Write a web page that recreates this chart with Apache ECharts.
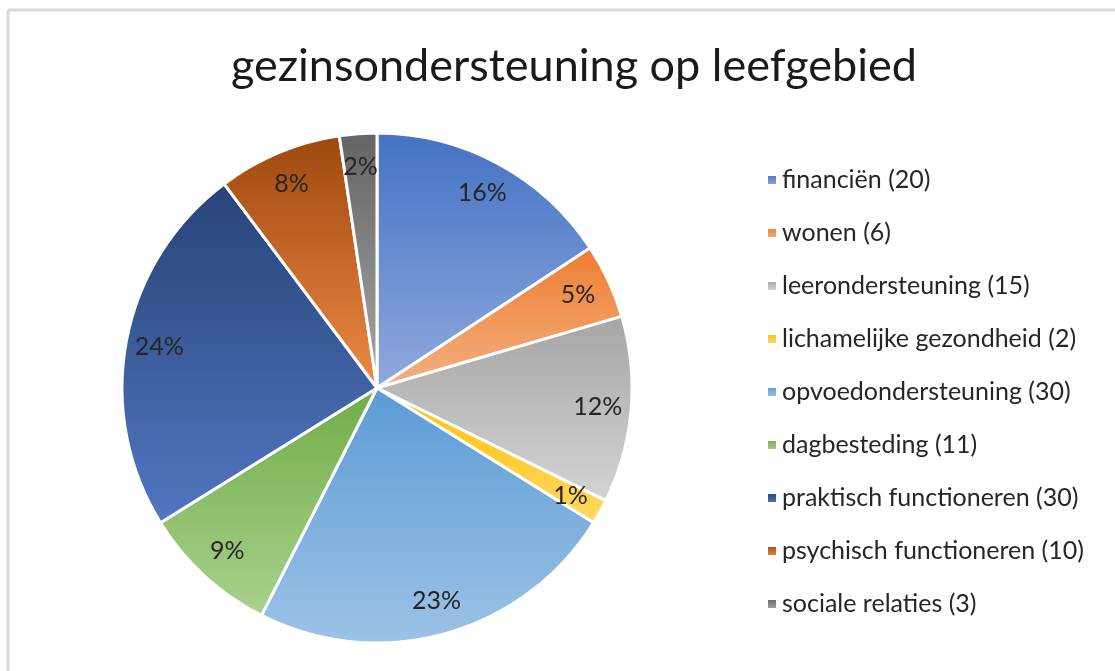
<!DOCTYPE html>
<html>
<head>
<meta charset="utf-8">
<script src="https://cdn.jsdelivr.net/npm/echarts@6/dist/echarts.min.js"></script>
<style>
  html, body { margin: 0; padding: 0; background: #fff; }
  #pie { width: 1115px; height: 671px; }
</style>
</head>
<body>
<div id="pie"></div>
<script>
var myChart = echarts.init(document.getElementById('pie'));

// gegevens
var titel = 'gezinsondersteuning op leefgebied';
var leefgebieden = ['financiën', 'wonen', 'leerondersteuning', 'lichamelijke gezondheid',
    'opvoedondersteuning', 'dagbesteding', 'praktisch functioneren',
    'psychisch functioneren', 'sociale relaties'];
var aantallen = [20, 6, 15, 2, 30, 11, 30, 10, 3];

// kleuren (boven donker, onder licht)
var kleurBoven = ['#4472c4', '#ed7d31', '#a5a5a5', '#ffc000', '#5b9bd5', '#70ad47', '#264478', '#9e480e', '#636363'];
var kleurOnder = ['#8faadc', '#f4b183', '#d4d4d4', '#ffd966', '#9dc3e6', '#a9d18e', '#5276c0', '#ee8a45', '#a8a8a8'];

var lettertype = 'Lato, "Open Sans", sans-serif';

// percentages afronden zodat ze samen 100 zijn (grootste rest)
function percentages(vals) {
    var totaal = 0;
    for (var i = 0; i < vals.length; ++i) totaal += vals[i];
    var basis = [], rest = [], som = 0;
    for (var i = 0; i < vals.length; ++i) {
        var p = vals[i] / totaal * 100;
        basis.push(Math.floor(p));
        rest.push(p - Math.floor(p));
        som += Math.floor(p);
    }
    while (som < 100) {
        var best = 0;
        for (var i = 1; i < vals.length; ++i) {
            if (rest[i] >= rest[best]) best = i;
        }
        basis[best] += 1;
        rest[best] = -1;
        som += 1;
    }
    return basis;
}
var pct = percentages(aantallen);

var taartData = [];
var labelData = [];
var legendData = [];
for (var i = 0; i < leefgebieden.length; ++i) {
    var naam = leefgebieden[i] + ' (' + aantallen[i] + ')';
    taartData.push({
        name: naam,
        value: aantallen[i],
        itemStyle: {
            color: new echarts.graphic.LinearGradient(0, 0, 0, 1, [
                { offset: 0, color: kleurBoven[i] },
                { offset: 1, color: kleurOnder[i] }
            ])
        }
    });
    labelData.push({ name: naam, value: aantallen[i] });
    legendData.push(naam);
}

myChart.setOption({
    animation: false,
    title: {
        text: titel,
        left: 569,
        top: 39,
        textAlign: 'center',
        textStyle: {
            fontFamily: lettertype,
            fontSize: 45,
            fontWeight: 'normal',
            color: '#1a1a1a'
        }
    },
    legend: {
        orient: 'vertical',
        left: 761,
        top: 160,
        icon: 'rect',
        itemWidth: 10,
        itemHeight: 10,
        itemGap: 23,
        data: legendData,
        textStyle: {
            fontFamily: lettertype,
            fontSize: 25,
            lineHeight: 30,
            color: '#262626'
        }
    },
    graphic: [
        { type: 'line', shape: { x1: 8, y1: 10, x2: 1115, y2: 10 }, style: { stroke: '#d9d9d9', lineWidth: 3 }, silent: true },
        { type: 'line', shape: { x1: 8, y1: 10, x2: 8, y2: 671 }, style: { stroke: '#d9d9d9', lineWidth: 3 }, silent: true }
    ],
    series: [
        {
            name: 'leefgebied',
            type: 'pie',
            center: [377, 388],
            radius: [0, 255],
            startAngle: 90,
            clockwise: true,
            data: taartData,
            label: { show: false },
            labelLine: { show: false },
            itemStyle: { borderColor: '#ffffff', borderWidth: 3 },
            emphasis: { scale: false }
        },
        {
            name: 'labels',
            type: 'pie',
            center: [377, 388],
            radius: [182, 255],
            startAngle: 90,
            clockwise: true,
            silent: true,
            data: labelData,
            itemStyle: { color: 'rgba(0,0,0,0)' },
            label: {
                show: true,
                position: 'inside',
                fontFamily: lettertype,
                fontSize: 25,
                color: '#262626',
                formatter: function (p) { return pct[p.dataIndex] + '%'; }
            },
            labelLine: { show: false },
            emphasis: { disabled: true }
        }
    ]
});
</script>
</body>
</html>
